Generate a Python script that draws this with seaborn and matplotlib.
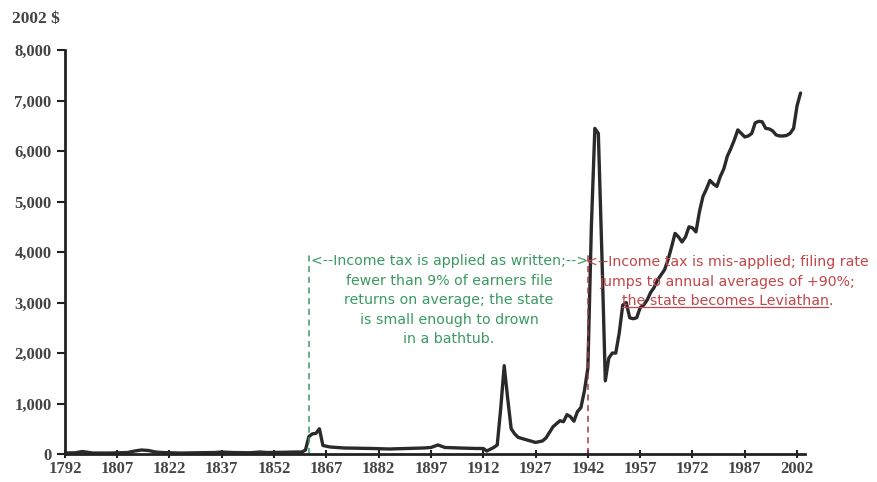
import matplotlib
matplotlib.use("Agg")
import matplotlib.pyplot as plt
import seaborn as sns
import pandas as pd

# per-capita federal spending, 2002 dollars
years = [1792, 1795, 1797, 1800, 1805, 1810, 1812, 1814, 1816, 1818, 1820,
         1825, 1830, 1835, 1837, 1840, 1845, 1848, 1850, 1855, 1858, 1860,
         1861, 1862, 1863, 1864, 1865, 1866, 1868, 1872, 1880, 1885, 1890,
         1895, 1897, 1899, 1901, 1905, 1910, 1912, 1913, 1915, 1916, 1917,
         1918, 1919, 1920, 1921, 1922, 1925, 1927, 1929, 1930, 1932, 1933,
         1934, 1935, 1936, 1937, 1938, 1939, 1940, 1941, 1942, 1943, 1944,
         1945, 1946, 1947, 1948, 1949, 1950, 1951, 1952, 1953, 1954, 1955,
         1956, 1957, 1958, 1959, 1960, 1961, 1962, 1963, 1964, 1965, 1966,
         1967, 1968, 1969, 1970, 1971, 1972, 1973, 1974, 1975, 1976, 1977,
         1978, 1979, 1980, 1981, 1982, 1983, 1984, 1985, 1986, 1987, 1988,
         1989, 1990, 1991, 1992, 1993, 1994, 1995, 1996, 1997, 1998, 1999,
         2000, 2001, 2002, 2003]
spending = [20, 25, 50, 20, 20, 30, 60, 80, 70, 40, 30,
            20, 25, 30, 40, 30, 25, 40, 30, 35, 40, 40,
            80, 350, 400, 410, 500, 170, 140, 120, 110, 100, 110,
            120, 130, 180, 130, 120, 110, 110, 60, 130, 180, 900,
            1750, 1100, 500, 400, 330, 270, 230, 260, 320, 540, 600,
            660, 640, 780, 740, 650, 840, 920, 1250, 1700, 4500, 6450,
            6350, 4000, 1450, 1900, 2000, 2000, 2400, 2950, 3000, 2700, 2680,
            2700, 2900, 2950, 3050, 3200, 3300, 3450, 3550, 3650, 3850, 4100,
            4370, 4300, 4200, 4300, 4500, 4480, 4400, 4800, 5100, 5250, 5420,
            5350, 5300, 5500, 5650, 5900, 6050, 6220, 6420, 6350, 6280, 6300,
            6350, 6560, 6590, 6580, 6450, 6440, 6400, 6320, 6300, 6300, 6310,
            6350, 6450, 6900, 7150]

x_ticks = [1792, 1807, 1822, 1837, 1852, 1867, 1882, 1897, 1912, 1927,
           1942, 1957, 1972, 1987, 2002]
y_ticks = [0, 1000, 2000, 3000, 4000, 5000, 6000, 7000, 8000]

applied_year = 1862
misapplied_year = 1942

green_note = ("<--Income tax is applied as written;-->\n"
              "fewer than 9% of earners file\n"
              "returns on average; the state\n"
              "is small enough to drown\n"
              "in a bathtub.")
red_lines = ["<--Income tax is mis-applied; filing rate",
             "jumps to annual averages of +90%;",
             "the state becomes Leviathan."]
red_baselines = [3720, 3330, 2950]

df = pd.DataFrame({"year": years, "spending": spending})

sns.set_style("ticks")
plt.rcParams["font.family"] = ["DejaVu Sans"]

green = "#3a9a62"
red = "#c0474a"

fig = plt.figure(figsize=(8.77, 4.82), dpi=100)
ax = fig.add_axes([0.074, 0.058, 0.844, 0.838])

sns.lineplot(data=df, x="year", y="spending", ax=ax, color="#2a2a2a",
             linewidth=2.4)

ax.plot([applied_year, applied_year], [0, 4000], linestyle=(0, (4, 3)),
        color=green, linewidth=1.1)
ax.plot([misapplied_year, misapplied_year], [0, 4000], linestyle=(0, (4, 3)),
        color="#a83848", linewidth=1.1)

ax.set_xlim(1792, 2004.3)
ax.set_ylim(0, 8000)
ax.set_xticks(x_ticks)
ax.set_yticks(y_ticks)
ax.set_yticklabels([f"{v:,}" for v in y_ticks])
ax.set_xlabel("")
ax.set_ylabel("")

for s in ["top", "right"]:
    ax.spines[s].set_visible(False)
for s in ["left", "bottom"]:
    ax.spines[s].set_linewidth(2)
    ax.spines[s].set_color("#222222")

ax.tick_params(axis="both", colors="#222222", width=1.5, length=6,
               labelsize=12, labelcolor="#444444")
ax.tick_params(axis="x", direction="inout", pad=2)
for lab in ax.get_xticklabels() + ax.get_yticklabels():
    lab.set_family("Liberation Serif")
    lab.set_fontweight("bold")

fig.text(0.014, 0.96, "2002 $", family="Liberation Serif", fontsize=12.5,
         fontweight="bold", color="#444444", va="center")

ax.text(1902.2, 3960, green_note, color=green, fontsize=10.2, ha="center",
        va="top", linespacing=1.5)

texts = []
for line, yb in zip(red_lines, red_baselines):
    texts.append(ax.text(1982.0, yb, line, color=red, fontsize=10.2,
                         ha="center", va="baseline"))

# underline the last red line (without the full stop)
fig.canvas.draw()
bb = texts[-1].get_window_extent()
inv = ax.transData.inverted()
x0, _ = inv.transform((bb.x0, 0))
x1, _ = inv.transform((bb.x1 - 5, 0))
ax.plot([x0, x1], [red_baselines[-1] - 45, red_baselines[-1] - 45],
        color=red, linewidth=0.9, clip_on=False)

fig.savefig("out.png", dpi=100)
